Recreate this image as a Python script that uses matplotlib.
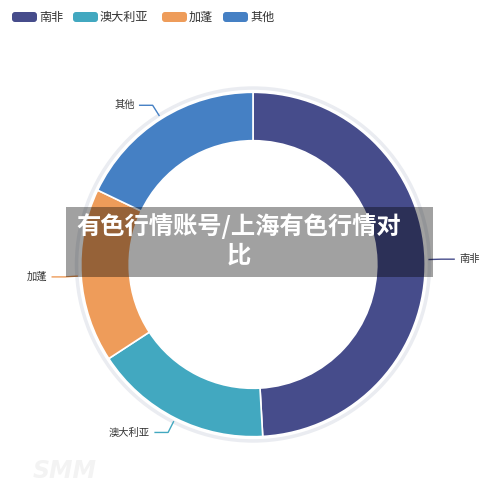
import numpy as np
import matplotlib
matplotlib.use("Agg")
import matplotlib.pyplot as plt
from matplotlib.patches import FancyBboxPatch, Rectangle, Wedge

# ---- data ----
categories = ["南非", "澳大利亚", "加蓬", "其他"]
values = [49.1, 16.7, 16.3, 17.9]
colors = ["#464c8b", "#42a8c0", "#ee9c5a", "#4580c4"]
title_lines = ["有色行情账号/上海有色行情对", "比"]

plt.rcParams['font.family'] = ['Noto Sans CJK SC', 'DejaVu Sans']

W, H = 500, 484
fig = plt.figure(figsize=(W / 100, H / 100), dpi=100)
ax = fig.add_axes([0, 0, 1, 1])

cx, cy = 253, H - 264.5
R = 172.2
ring_w = 48.4

# background light ring
ax.add_patch(Wedge((cx, cy), R + 6, 0, 360, width=3.5, facecolor="#eaecf1", edgecolor="none", zorder=1))

wedges, _ = ax.pie(values, colors=colors, startangle=90, counterclock=False,
                   radius=R, center=(cx, cy),
                   wedgeprops=dict(width=ring_w, edgecolor="white", linewidth=1.2),
                   frame=True)
ax.set_xlim(0, W)
ax.set_ylim(0, H)
ax.set_aspect('equal')
ax.axis('off')

# labels with leader lines
for w, lab, col in zip(wedges, categories, colors):
    ang = np.deg2rad((w.theta1 + w.theta2) / 2)
    dx, dy = np.cos(ang), np.sin(ang)
    p1 = (cx + (R + 4) * dx, cy + (R + 4) * dy)
    p2 = (cx + (R + 16) * dx, cy + (R + 16) * dy)
    sgn = 1 if dx >= 0 else -1
    p3 = (p2[0] + sgn * 13, p2[1])
    ax.plot([p1[0], p2[0], p3[0]], [p1[1], p2[1], p3[1]], color=col, lw=1, zorder=5)
    ax.text(p3[0] + sgn * 5, p3[1], lab, ha='left' if sgn > 0 else 'right', va='center',
            fontsize=7.4, color="#333333", zorder=6)

# legend
leg_x = [12, 73, 162, 223]
for x, lab, col in zip(leg_x, categories, colors):
    ax.add_patch(FancyBboxPatch((x + 2, H - 22 + 2), 21, 6, boxstyle="round,pad=2,rounding_size=3",
                                facecolor=col, edgecolor="none", zorder=6))
    ax.text(x + 27, H - 17, lab, ha='left', va='center', fontsize=8.7, color="#333333", zorder=6)

# watermark
ax.text(33, H - 471, "SMM", fontsize=17, fontweight='bold', fontstyle='italic',
        color="#f3f3f3", ha='left', va='center', family='DejaVu Sans', zorder=0)

# overlay banner
ax.add_patch(Rectangle((66, H - 277), 367, 70, facecolor="black", alpha=0.37,
                       edgecolor="none", zorder=10))
ax.text(239, H - 226, title_lines[0], ha='center', va='center', fontsize=17.5,
        fontweight='heavy', color='white', zorder=11)
ax.text(239, H - 256, title_lines[1], ha='center', va='center', fontsize=17.5,
        fontweight='heavy', color='white', zorder=11)

fig.savefig("out.png", dpi=100)
